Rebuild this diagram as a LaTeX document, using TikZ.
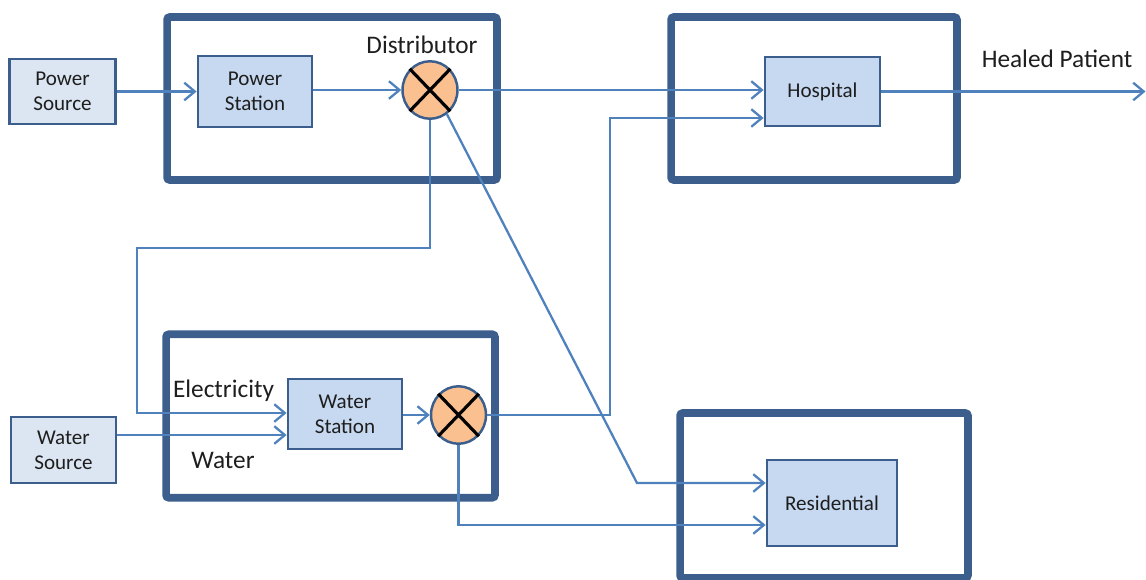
\documentclass[tikz,border=0pt]{standalone}
\usepackage{fontspec}
\setmainfont{Carlito}
\usetikzlibrary{arrows.meta,shapes.geometric}

\definecolor{frameblue}{HTML}{3B5E8C}
\definecolor{lineblue}{HTML}{4F81BD}
\definecolor{boxfill}{HTML}{C6D9F1}
\definecolor{srcfill}{HTML}{DCE6F2}
\definecolor{mixfill}{HTML}{FAC090}
\definecolor{txtgray}{HTML}{1E1E1E}

\begin{document}
\begin{tikzpicture}[x=0.02cm,y=-0.02cm,
		>={Straight Barb[length=6pt,width=10pt,line width=1.3pt]},
		frame/.style={rectangle,draw=frameblue,line width=4.3pt,rounded corners=1.5pt,inner sep=0pt},
		unit/.style={rectangle,draw=frameblue,line width=1.6pt,fill=boxfill,inner sep=0pt,
			align=center,text=txtgray,font=\fontsize{12}{14.2}\selectfont},
		source/.style={unit,fill=srcfill},
		mixer/.style={ellipse,draw=frameblue,line width=1.4pt,fill=mixfill,inner sep=0pt,
			minimum width=1.1cm,minimum height=1.15cm},
		flow/.style={->,draw=lineblue,line width=1.3pt},
		tag/.style={text=txtgray,font=\fontsize{14.4}{17}\selectfont}]
	
	\useasboundingbox (0,0) rectangle (1146,579);
	
	% plants
	\node[frame,minimum width=6.6cm,minimum height=3.26cm]  (powerplant) at (332,98.5) {};
	\node[frame,minimum width=6.58cm,minimum height=3.27cm] (waterplant) at (330.5,416) {};
	\node[frame,minimum width=5.72cm,minimum height=3.26cm] (hospplant)  at (814,98.5) {};
	\node[frame,minimum width=5.76cm,minimum height=3.3cm]  (resplant)   at (824,495.5) {};
	
	% units
	\node[source,minimum width=2.12cm,minimum height=1.3cm] (psrc)  at (62.5,91.5) {Power\\Source};
	\node[unit,minimum width=2.28cm,minimum height=1.42cm]  (pstat) at (255,91.5) {Power\\Station};
	\node[mixer] (dist) at (430,90) {};
	\node[source,minimum width=2.1cm,minimum height=1.32cm] (wsrc)  at (63.5,450) {Water\\Source};
	\node[unit,minimum width=2.28cm,minimum height=1.4cm]   (wstat) at (345,414) {Water\\Station};
	\node[mixer] (wmix) at (458.5,415) {};
	\node[unit,minimum width=2.3cm,minimum height=1.38cm]   (hosp)  at (822.5,91.5) {Hospital};
	\node[unit,minimum width=2.6cm,minimum height=1.72cm]   (res)   at (832,503) {Residential};
	
	\foreach \m in {dist,wmix}
	\draw[line width=1.8pt] (\m.north west) -- (\m.south east) (\m.north east) -- (\m.south west);
	
	% labels
	\node[tag] (distlbl) at (422,45)   {Distributor};
	\node[tag] (heallbl) at (1057,59)  {Healed Patient};
	\node[tag] (eleclbl) at (223.5,391) {Electricity};
	\node[tag] (watlbl)  at (223,460)  {Water};
	\coordinate (out) at (1145.5,91.5);
	
	% flows
	\draw[flow] (psrc) -- (pstat);
	\draw[flow] (pstat.east |- dist.west) -- (dist.west);
	\draw[flow] (dist.east) -- (hosp.west |- dist.east);
	\draw[flow] (hosp) -- (out);
	\draw[flow] (dist.south) |- (137,248) |- (wstat.west |- 0,413);
	\draw[flow] (wsrc.east |- 0,435) -- (wstat.west |- 0,435);
	\draw[flow] (wstat.east |- wmix.west) -- (wmix.west);
	\draw[flow] (wmix.east) -| (610,118) -- (hosp.west |- 0,118);
	\draw[flow] (dist.-55) -- (637,483) -- (res.west |- 0,483);
	\draw[flow] (wmix.south) |- (res.west |- 0,525);
\end{tikzpicture}
\end{document}
